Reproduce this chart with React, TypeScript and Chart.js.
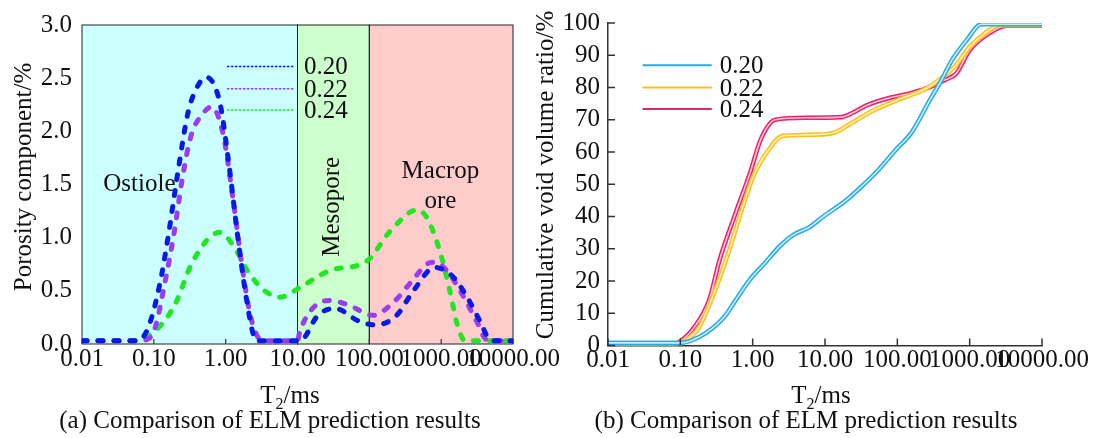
import React, { useEffect, useRef } from "react";
import { Chart, registerables } from "chart.js";
Chart.register(...registerables);

const FONT = '"Liberation Serif", "Times New Roman", serif';

// ---------- shared ----------
const xTickValues = [0.01, 0.1, 1, 10, 100, 1000, 10000];
const seriesLabels = ["0.20", "0.22", "0.24"];
const xTitleMain = "T";
const xTitleSub = "2";
const xTitleRest = "/ms";

// ---------- panel (a) ----------
const porTicks = [0, 0.5, 1, 1.5, 2, 2.5, 3];
const regionBounds = [0.01, 10, 100, 10000];
const captionA = "(a) Comparison of ELM prediction results";
const yTitleA = "Porosity component/%";

const t2A_020 = [0.01, 0.03, 0.059, 0.083, 0.12, 0.16, 0.22, 0.3, 0.39, 0.53, 0.83, 1.1, 1.46, 1.9, 2.4, 2.7, 5, 11, 12.5, 18.5, 33, 74, 126, 240, 410, 815, 1470, 2300, 3500, 4800, 6000, 10000];
const porA_020 = [0.03, 0.03, 0.03, 0.15, 0.55, 1.03, 1.65, 2.18, 2.4, 2.51, 2.27, 1.71, 1.03, 0.47, 0.1, 0.03, 0.03, 0.03, 0.06, 0.255, 0.335, 0.21, 0.18, 0.27, 0.5, 0.72, 0.63, 0.44, 0.21, 0.04, 0.03, 0.03];

const t2A_022 = [0.01, 0.06, 0.085, 0.105, 0.14, 0.19, 0.25, 0.33, 0.46, 0.64, 0.93, 1.28, 1.7, 2.24, 3.1, 5, 10, 10.7, 16, 28, 50, 112, 230, 400, 630, 815, 1200, 1950, 3200, 4300, 10000];
const porA_022 = [0.03, 0.03, 0.05, 0.16, 0.55, 1.03, 1.56, 1.96, 2.15, 2.23, 1.96, 1.34, 0.72, 0.25, 0.04, 0.03, 0.03, 0.11, 0.33, 0.41, 0.37, 0.27, 0.41, 0.6, 0.75, 0.77, 0.69, 0.47, 0.2, 0.04, 0.03];

const t2A_024 = [0.01, 0.05, 0.074, 0.13, 0.2, 0.35, 0.83, 1.32, 2.0, 3.5, 5.7, 10.7, 28, 92, 195, 460, 630, 950, 1320, 1650, 2150, 10000];
const porA_024 = [0.03, 0.03, 0.05, 0.19, 0.38, 0.78, 1.05, 0.91, 0.69, 0.5, 0.44, 0.53, 0.69, 0.78, 1.06, 1.26, 1.19, 0.88, 0.5, 0.2, 0.03, 0.03];

// annotation anchors (data space)
const regionLabelText = ["Ostiole", "Mesopore", "Macrop", "ore"];
const regionLabelX = [0.063, 31, 977, 977];
const regionLabelY = [1.5, 1.29, 1.62, 1.34];
const legendAX = [1.04, 9.2, 12.3];
const legendAY = [2.61, 2.4, 2.2];

// ---------- panel (b) ----------
const cumTicks = [0, 10, 20, 30, 40, 50, 60, 70, 80, 90, 100];
const captionB = "(b) Comparison of ELM prediction results";
const yTitleB = "Cumulative void volume ratio/%";

const t2B_020 = [0.01, 0.1, 0.14, 0.23, 0.41, 0.58, 0.92, 1.48, 2.35, 3.7, 5.9, 9.5, 19.5, 31, 55, 98, 157, 280, 400, 570, 910, 1450, 10000];
const cumB_020 = [0.8, 0.8, 1.5, 4, 9, 14, 20.5, 25.6, 30.7, 34.4, 36.5, 40, 45, 49, 54.5, 61, 66, 76, 82, 88.5, 94.7, 99.6, 99.6];

const t2B_022 = [0.01, 0.1, 0.11, 0.18, 0.29, 0.46, 0.73, 1.02, 1.66, 2.6, 7.6, 13.8, 21, 43, 98, 250, 400, 650, 1000, 1620, 2600, 10000];
const cumB_022 = [0.3, 0.5, 1, 5.5, 16, 28.6, 43, 52.4, 60.7, 65, 65.4, 66.1, 68.4, 72.5, 76, 79.7, 82.8, 87, 92.6, 96.8, 99.3, 99.3];

const t2B_024 = [0.01, 0.062, 0.1, 0.16, 0.25, 0.35, 0.58, 0.92, 1.3, 2.05, 5.4, 17, 21, 39, 79, 138, 250, 450, 650, 1000, 1850, 3250, 10000];
const cumB_024 = [-0.3, -0.3, 1.3, 6, 14, 26.6, 41, 53.5, 64, 70, 70.6, 70.8, 71.5, 74.6, 76.8, 78, 79.7, 82.3, 84.3, 91.6, 96.8, 99.2, 99.2];

const legendBX = [0.03, 0.272, 0.35];
const legendBY = [86.9, 80, 73.3];

// ---------- styles ----------
const dashColors = ["#0a1ae6", "#9a3cf2", "#22e622"];
const regionFill = ["#ccffff", "#ccffcc", "#ffcccc"];
const outerColors = ["#2aace3", "#ffbf1f", "#e8246e"];
const innerColors = ["#c9edfa", "#fff0b5", "#f6c8da"];

const pts = (xs: number[], ys: number[]) => xs.map((x, i) => ({ x, y: ys[i] }));

function drawT2(ctx: CanvasRenderingContext2D, cx: number, base: number, size: number) {
  ctx.save();
  ctx.fillStyle = "#111";
  ctx.textBaseline = "alphabetic";
  ctx.textAlign = "left";
  const f1 = `${size}px ${FONT}`;
  const f2 = `${Math.round(size * 0.65)}px ${FONT}`;
  ctx.font = f1;
  const wT = ctx.measureText(xTitleMain).width;
  const wR = ctx.measureText(xTitleRest).width;
  ctx.font = f2;
  const w2 = ctx.measureText(xTitleSub).width;
  let x = cx - (wT + w2 + wR) / 2;
  ctx.font = f1;
  ctx.fillText(xTitleMain, x, base);
  x += wT;
  ctx.font = f2;
  ctx.fillText(xTitleSub, x, base + size * 0.22);
  x += w2;
  ctx.font = f1;
  ctx.fillText(xTitleRest, x, base);
  ctx.restore();
}

function drawRotated(ctx: CanvasRenderingContext2D, text: string, cx: number, cy: number, size: number) {
  ctx.save();
  ctx.translate(cx, cy);
  ctx.rotate(-Math.PI / 2);
  ctx.fillStyle = "#111";
  ctx.font = `${size}px ${FONT}`;
  ctx.textAlign = "center";
  ctx.textBaseline = "middle";
  ctx.fillText(text, 0, 0);
  ctx.restore();
}

const logTicks = (s: any) => {
  s.ticks = xTickValues.map((v) => ({ value: v }));
};

const leftDecor = {
  id: "leftDecor",
  beforeDatasetsDraw(chart: any) {
    const { ctx, chartArea: a, scales } = chart;
    const x = scales.x, y = scales.y;
    ctx.save();
    for (let i = 0; i < 3; i++) {
      const x0 = x.getPixelForValue(regionBounds[i]);
      const x1 = x.getPixelForValue(regionBounds[i + 1]);
      ctx.fillStyle = regionFill[i];
      ctx.fillRect(x0, a.top, x1 - x0, a.bottom - a.top);
    }
    ctx.strokeStyle = "#222";
    ctx.lineWidth = 1;
    for (let i = 0; i < 3; i++) {
      const x0 = x.getPixelForValue(regionBounds[i]);
      const x1 = x.getPixelForValue(regionBounds[i + 1]);
      ctx.strokeRect(x0, a.top, x1 - x0, a.bottom - a.top);
    }
    // inward ticks on bottom
    ctx.strokeStyle = "#333";
    ctx.lineWidth = 1.2;
    xTickValues.forEach((v) => {
      const px = x.getPixelForValue(v);
      ctx.beginPath();
      ctx.moveTo(px, a.bottom);
      ctx.lineTo(px, a.bottom - 5);
      ctx.stroke();
    });
    // region labels
    ctx.fillStyle = "#111";
    ctx.font = `25px ${FONT}`;
    ctx.textAlign = "center";
    ctx.textBaseline = "middle";
    regionLabelText.forEach((t, i) => {
      const px = x.getPixelForValue(regionLabelX[i]);
      const py = y.getPixelForValue(regionLabelY[i]);
      if (t === "Mesopore") {
        drawRotated(ctx, t, px, py, 25);
      } else {
        ctx.fillText(t, px, py);
      }
    });
    ctx.restore();
  },
  afterDatasetsDraw(chart: any) {
    const { ctx, scales } = chart;
    const x = scales.x, y = scales.y;
    ctx.save();
    seriesLabels.forEach((lab, i) => {
      const x0 = x.getPixelForValue(legendAX[0]);
      const x1 = x.getPixelForValue(legendAX[1]);
      const xl = x.getPixelForValue(legendAX[2]);
      const py = y.getPixelForValue(legendAY[i]);
      ctx.strokeStyle = dashColors[i];
      ctx.lineWidth = 1.6;
      ctx.setLineDash([2.5, 1.5]);
      ctx.beginPath();
      ctx.moveTo(x0, py);
      ctx.lineTo(x1, py);
      ctx.stroke();
      ctx.setLineDash([]);
      ctx.fillStyle = "#111";
      ctx.font = `25px ${FONT}`;
      ctx.textAlign = "left";
      ctx.textBaseline = "alphabetic";
      ctx.fillText(lab, xl, py + 8);
    });
    ctx.restore();
  },
  afterDraw(chart: any) {
    const { ctx } = chart;
    drawRotated(ctx, yTitleA, 24, 177, 25);
    drawT2(ctx, 290, 403, 25);
    ctx.save();
    ctx.fillStyle = "#111";
    ctx.font = `25px ${FONT}`;
    ctx.textAlign = "center";
    ctx.textBaseline = "alphabetic";
    ctx.fillText(captionA, 270, 428);
    ctx.restore();
  },
};

const rightDecor = {
  id: "rightDecor",
  afterDatasetsDraw(chart: any) {
    const { ctx, chartArea: a, scales } = chart;
    const x = scales.x, y = scales.y;
    ctx.save();
    ctx.strokeStyle = "#333";
    ctx.lineWidth = 1.5;
    xTickValues.forEach((v) => {
      const px = x.getPixelForValue(v);
      ctx.beginPath();
      ctx.moveTo(px, a.bottom);
      ctx.lineTo(px, a.bottom - 7);
      ctx.stroke();
    });
    cumTicks.forEach((v) => {
      const py = y.getPixelForValue(v);
      ctx.beginPath();
      ctx.moveTo(a.left, py);
      ctx.lineTo(a.left + 7, py);
      ctx.stroke();
    });
    seriesLabels.forEach((lab, i) => {
      const x0 = x.getPixelForValue(legendBX[0]);
      const x1 = x.getPixelForValue(legendBX[1]);
      const xl = x.getPixelForValue(legendBX[2]);
      const py = y.getPixelForValue(legendBY[i]);
      ctx.strokeStyle = outerColors[i];
      ctx.lineWidth = 2;
      ctx.beginPath();
      ctx.moveTo(x0, py);
      ctx.lineTo(x1, py);
      ctx.stroke();
      ctx.fillStyle = "#111";
      ctx.font = `25px ${FONT}`;
      ctx.textAlign = "left";
      ctx.textBaseline = "alphabetic";
      ctx.fillText(lab, xl, py + 8);
    });
    ctx.restore();
  },
  afterDraw(chart: any) {
    const { ctx } = chart;
    drawRotated(ctx, yTitleB, 26, 175, 25);
    drawT2(ctx, 301, 403, 25);
    ctx.save();
    ctx.fillStyle = "#111";
    ctx.font = `25px ${FONT}`;
    ctx.textAlign = "center";
    ctx.textBaseline = "alphabetic";
    ctx.fillText(captionB, 286, 428);
    ctx.restore();
  },
};

const tickFont = { family: FONT, size: 25 };

function ChartA() {
  const ref = useRef<HTMLCanvasElement>(null);
  useEffect(() => {
    const sets = [
      [t2A_020, porA_020],
      [t2A_022, porA_022],
      [t2A_024, porA_024],
    ];
    const chart = new Chart(ref.current as HTMLCanvasElement, {
      type: "line",
      data: {
        datasets: sets.map(([xs, ys], i) => ({
          label: seriesLabels[i],
          data: pts(xs, ys),
          borderColor: dashColors[i],
          borderWidth: 5,
          borderDash: [5, 11],
          borderCapStyle: "round",
          pointRadius: 0,
          fill: false,
          cubicInterpolationMode: "monotone",
        })),
      },
      options: {
        responsive: false,
        animation: false,
        layout: { padding: { left: 22, right: 87, top: 22, bottom: 0 } },
        plugins: { legend: { display: false }, tooltip: { enabled: false } },
        scales: {
          x: {
            type: "logarithmic",
            min: 0.01,
            max: 10000,
            afterBuildTicks: logTicks,
            afterFit: (s: any) => {
              s.height = 94;
            },
            grid: { display: false, drawTicks: false },
            border: { display: false },
            ticks: {
              autoSkip: false,
              maxRotation: 0,
              minRotation: 0,
              padding: 0,
              color: "#111",
              font: tickFont,
              callback: (v: any) => Number(v).toFixed(2),
            },
          },
          y: {
            type: "linear",
            min: 0,
            max: 3,
            afterBuildTicks: (s: any) => {
              s.ticks = porTicks.map((v) => ({ value: v }));
            },
            afterFit: (s: any) => {
              s.width = 60;
            },
            grid: { display: false, drawTicks: false },
            border: { display: false },
            ticks: {
              autoSkip: false,
              padding: 10,
              color: "#111",
              font: tickFont,
              callback: (v: any) => Number(v).toFixed(1),
            },
          },
        },
      } as any,
      plugins: [leftDecor],
    });
    return () => chart.destroy();
  }, []);
  return (
    <canvas
      ref={ref}
      width={600}
      height={438}
      style={{ position: "absolute", left: 0, top: 0, width: 600, height: 438 }}
    />
  );
}

function ChartB() {
  const ref = useRef<HTMLCanvasElement>(null);
  useEffect(() => {
    const sets = [
      [t2B_020, cumB_020],
      [t2B_022, cumB_022],
      [t2B_024, cumB_024],
    ];
    const datasets: any[] = [];
    sets.forEach(([xs, ys], i) => {
      datasets.push({
        label: seriesLabels[i] + " inner",
        data: pts(xs, ys),
        borderColor: innerColors[i],
        borderWidth: 1.6,
        pointRadius: 0,
        fill: false,
        cubicInterpolationMode: "monotone",
      });
      datasets.push({
        label: seriesLabels[i],
        data: pts(xs, ys),
        borderColor: outerColors[i],
        borderWidth: 4.6,
        pointRadius: 0,
        fill: false,
        cubicInterpolationMode: "monotone",
      });
    });
    const chart = new Chart(ref.current as HTMLCanvasElement, {
      type: "line",
      data: { datasets },
      options: {
        responsive: false,
        animation: false,
        layout: { padding: { left: 28, right: 63, top: 22, bottom: 0 } },
        plugins: { legend: { display: false }, tooltip: { enabled: false } },
        scales: {
          x: {
            type: "logarithmic",
            min: 0.01,
            max: 10000,
            afterBuildTicks: logTicks,
            afterFit: (s: any) => {
              s.height = 92.5;
            },
            grid: { display: false, drawTicks: false },
            border: { display: true, color: "#333", width: 1.5 },
            ticks: {
              autoSkip: false,
              maxRotation: 0,
              minRotation: 0,
              padding: 0,
              color: "#111",
              font: tickFont,
              callback: (v: any) => Number(v).toFixed(2),
            },
          },
          y: {
            type: "linear",
            min: 0,
            max: 100,
            afterBuildTicks: (s: any) => {
              s.ticks = cumTicks.map((v) => ({ value: v }));
            },
            afterFit: (s: any) => {
              s.width = 60;
            },
            grid: { display: false, drawTicks: false },
            border: { display: true, color: "#333", width: 1.5 },
            ticks: {
              autoSkip: false,
              padding: 8,
              color: "#111",
              font: tickFont,
              callback: (v: any) => String(v),
            },
          },
        },
      } as any,
      plugins: [rightDecor],
    });
    return () => chart.destroy();
  }, []);
  return (
    <canvas
      ref={ref}
      width={585}
      height={438}
      style={{ position: "absolute", left: 520, top: 0, width: 585, height: 438 }}
    />
  );
}

export default function App() {
  return (
    <div
      style={{
        position: "absolute",
        left: 0,
        top: 0,
        width: 1105,
        height: 438,
        background: "#fff",
        overflow: "hidden",
      }}
    >
      <ChartA />
      <ChartB />
    </div>
  );
}
